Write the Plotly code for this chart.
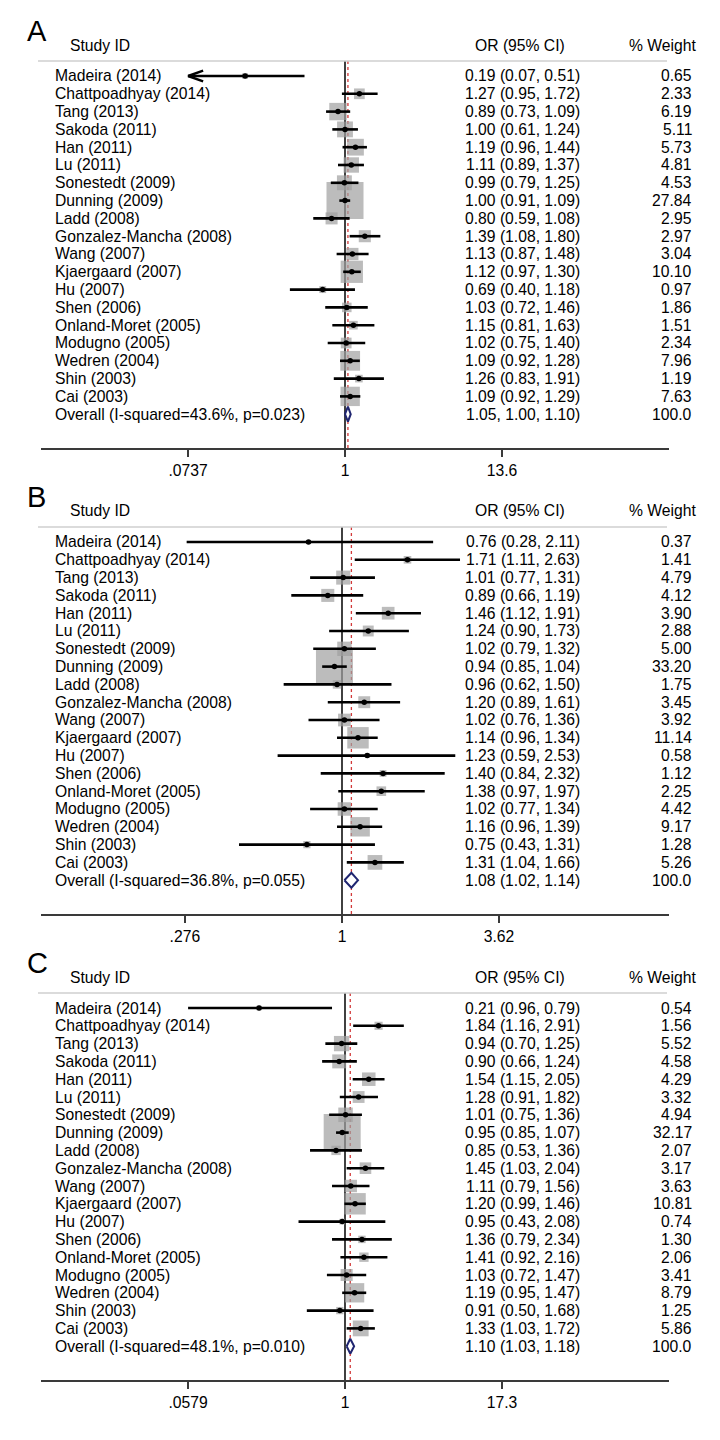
import math
import plotly.graph_objects as go

# ---------------- data ----------------
studies = ["Madeira (2014)", "Chattpoadhyay (2014)", "Tang (2013)", "Sakoda (2011)",
           "Han (2011)", "Lu (2011)", "Sonestedt (2009)", "Dunning (2009)", "Ladd (2008)",
           "Gonzalez-Mancha (2008)", "Wang (2007)", "Kjaergaard (2007)", "Hu (2007)",
           "Shen (2006)", "Onland-Moret (2005)", "Modugno (2005)", "Wedren (2004)",
           "Shin (2003)", "Cai (2003)"]

# Panel A
a_or = [0.19, 1.27, 0.89, 1.00, 1.19, 1.11, 0.99, 1.00, 0.80, 1.39, 1.13, 1.12, 0.69, 1.03, 1.15, 1.02, 1.09, 1.26, 1.09]
a_lo = [0.07, 0.95, 0.73, 0.61, 0.96, 0.89, 0.79, 0.91, 0.59, 1.08, 0.87, 0.97, 0.40, 0.72, 0.81, 0.75, 0.92, 0.83, 0.92]
a_hi = [0.51, 1.72, 1.09, 1.24, 1.44, 1.37, 1.25, 1.09, 1.08, 1.80, 1.48, 1.30, 1.18, 1.46, 1.63, 1.40, 1.28, 1.91, 1.29]
a_w = [0.65, 2.33, 6.19, 5.11, 5.73, 4.81, 4.53, 27.84, 2.95, 2.97, 3.04, 10.10, 0.97, 1.86, 1.51, 2.34, 7.96, 1.19, 7.63]
a_lo_drawn = {3: 0.81}          # Sakoda's line is drawn from ~0.81 in the figure
a_overall = [1.05, 1.00, 1.10]
a_overall_text = "1.05, 1.00, 1.10)"
a_het = "Overall (I-squared=43.6%, p=0.023)"
a_ticks = [0.0737, 1, 13.6]
a_ticktext = [".0737", "1", "13.6"]

# Panel B
b_or = [0.76, 1.71, 1.01, 0.89, 1.46, 1.24, 1.02, 0.94, 0.96, 1.20, 1.02, 1.14, 1.23, 1.40, 1.38, 1.02, 1.16, 0.75, 1.31]
b_lo = [0.28, 1.11, 0.77, 0.66, 1.12, 0.90, 0.79, 0.85, 0.62, 0.89, 0.76, 0.96, 0.59, 0.84, 0.97, 0.77, 0.96, 0.43, 1.04]
b_hi = [2.11, 2.63, 1.31, 1.19, 1.91, 1.73, 1.32, 1.04, 1.50, 1.61, 1.36, 1.34, 2.53, 2.32, 1.97, 1.34, 1.39, 1.31, 1.66]
b_w = [0.37, 1.41, 4.79, 4.12, 3.90, 2.88, 5.00, 33.20, 1.75, 3.45, 3.92, 11.14, 0.58, 1.12, 2.25, 4.42, 9.17, 1.28, 5.26]
b_lo_drawn = {}
b_overall = [1.08, 1.02, 1.14]
b_overall_text = "1.08 (1.02, 1.14)"
b_het = "Overall (I-squared=36.8%, p=0.055)"
b_ticks = [0.276, 1, 3.62]
b_ticktext = [".276", "1", "3.62"]

# Panel C
c_or = [0.21, 1.84, 0.94, 0.90, 1.54, 1.28, 1.01, 0.95, 0.85, 1.45, 1.11, 1.20, 0.95, 1.36, 1.41, 1.03, 1.19, 0.91, 1.33]
c_lo = [0.96, 1.16, 0.70, 0.66, 1.15, 0.91, 0.75, 0.85, 0.53, 1.03, 0.79, 0.99, 0.43, 0.79, 0.92, 0.72, 0.95, 0.50, 1.03]
c_hi = [0.79, 2.91, 1.25, 1.24, 2.05, 1.82, 1.36, 1.07, 1.36, 2.04, 1.56, 1.46, 2.08, 2.34, 2.16, 1.47, 1.47, 1.68, 1.72]
c_w = [0.54, 1.56, 5.52, 4.58, 4.29, 3.32, 4.94, 32.17, 2.07, 3.17, 3.63, 10.81, 0.74, 1.30, 2.06, 3.41, 8.79, 1.25, 5.86]
c_lo_drawn = {0: 0.0579}        # Madeira's line is drawn from ~0.058 in the figure
c_overall = [1.10, 1.03, 1.18]
c_overall_text = "1.10 (1.03, 1.18)"
c_het = "Overall (I-squared=48.1%, p=0.010)"
c_ticks = [0.0579, 1, 17.3]
c_ticktext = [".0579", "1", "17.3"]

panels = [
    dict(letter="A", or_=a_or, lo=a_lo, hi=a_hi, w=a_w, lo_drawn=a_lo_drawn, ov=a_overall,
         ov_text=a_overall_text, het=a_het, ticks=a_ticks, ticktext=a_ticktext),
    dict(letter="B", or_=b_or, lo=b_lo, hi=b_hi, w=b_w, lo_drawn=b_lo_drawn, ov=b_overall,
         ov_text=b_overall_text, het=b_het, ticks=b_ticks, ticktext=b_ticktext),
    dict(letter="C", or_=c_or, lo=c_lo, hi=c_hi, w=c_w, lo_drawn=c_lo_drawn, ov=c_overall,
         ov_text=c_overall_text, het=c_het, ticks=c_ticks, ticktext=c_ticktext),
]

# ---------------- layout constants (pixels) ----------------
W, H = 720, 1440
FONT = "Liberation Sans, Arial, sans-serif"
FS = 15.7
FIRST_ROW = 76
ROW = 17.8
PANEL = 466
HEAD_LINE = 61
AXIS_LINE = 448
X_L, X_R = 41, 669
ONE_PX = [345, 342, 345]
TICK_SPAN = 157
BOX_MAX = 37
TXT = "#000"

BOX_COL = "#a0a0a0"
DIAM_COL = "#1f2570"
RED = "#d23a3a"


def px(x):
    return x / W


def py(y):
    return 1 - y / H


fig = go.Figure()
annotations = []
shapes = []
layout_axes = {}

for k, p in enumerate(panels):
    xs = "" if k == 0 else str(k + 1)
    xref, yref = "x" + xs, "y" + xs
    off = PANEL * k
    n = len(studies)
    rows = list(range(n))
    ov_row = n

    ppd = TICK_SPAN / math.log10(p["ticks"][-1])
    xr = [(X_L - ONE_PX[k]) / ppd, (X_R - ONE_PX[k]) / ppd]
    y_bot = (AXIS_LINE - FIRST_ROW) / ROW
    y_top = (HEAD_LINE - FIRST_ROW) / ROW

    layout_axes["xaxis" + xs] = dict(
        type="log", range=xr, domain=[px(X_L), px(X_R)], anchor=yref,
        showline=True, linecolor="#3a3a3a", linewidth=2, ticks="outside", ticklen=7,
        tickwidth=1.5, tickcolor="#3a3a3a", tickvals=p["ticks"], ticktext=p["ticktext"],
        showgrid=False, zeroline=False, tickfont=dict(family=FONT, size=FS, color=TXT),
        fixedrange=True)
    layout_axes["yaxis" + xs] = dict(
        domain=[py(AXIS_LINE + off), py(HEAD_LINE + off)], range=[y_bot, y_top],
        visible=False, anchor=xref, fixedrange=True)

    # reference line at 1 and dashed line at overall estimate
    fig.add_trace(go.Scatter(x=[1, 1], y=[y_bot, y_top], mode="lines", xaxis=xref, yaxis=yref,
                             line=dict(color="#111", width=1.6), hoverinfo="skip", showlegend=False))
    fig.add_trace(go.Scatter(x=[p["ov"][0]] * 2, y=[y_bot, y_top], mode="lines", xaxis=xref,
                             yaxis=yref, line=dict(color=RED, width=1.3, dash="3px,3px"),
                             hoverinfo="skip", showlegend=False))

    # boxes
    wmax = max(p["w"])
    sizes = [BOX_MAX * math.sqrt(w / wmax) for w in p["w"]]
    fig.add_trace(go.Scatter(x=p["or_"], y=rows, mode="markers", xaxis=xref, yaxis=yref,
                             marker=dict(symbol="square", size=sizes, color=BOX_COL,
                                         line=dict(width=0)),
                             hoverinfo="skip", showlegend=False, cliponaxis=False))

    # CI lines (clipped at outer ticks, arrows when clipped)
    t_lo, t_hi = p["ticks"][0], p["ticks"][-1]
    cx, cy, ax_, ay_ = [], [], [], []
    arm = 10 ** (15 / ppd)
    for i in rows:
        lo = p["lo_drawn"].get(i, p["lo"][i])
        hi = p["hi"][i]
        l2, h2 = max(lo, t_lo), min(hi, t_hi)
        cx += [l2, h2, None]
        cy += [i, i, None]
        if lo < t_lo:
            ax_ += [t_lo * arm, t_lo, t_lo * arm, None]
            ay_ += [i - 0.3, i, i + 0.3, None]
        if hi > t_hi:
            ax_ += [t_hi / arm, t_hi, t_hi / arm, None]
            ay_ += [i - 0.3, i, i + 0.3, None]
    fig.add_trace(go.Scatter(x=cx, y=cy, mode="lines", xaxis=xref, yaxis=yref,
                             line=dict(color="#000", width=2.6), hoverinfo="skip",
                             showlegend=False, cliponaxis=False))
    if ax_:
        fig.add_trace(go.Scatter(x=ax_, y=ay_, mode="lines", xaxis=xref, yaxis=yref,
                                 line=dict(color="#000", width=2.4), hoverinfo="skip",
                                 showlegend=False, cliponaxis=False))
    # point estimates
    fig.add_trace(go.Scatter(x=p["or_"], y=rows, mode="markers", xaxis=xref, yaxis=yref,
                             marker=dict(symbol="circle", size=5.5, color="#000"),
                             hoverinfo="skip", showlegend=False, cliponaxis=False))
    # diamond
    o, ol, oh = p["ov"]
    fig.add_trace(go.Scatter(x=[ol, o, oh, o, ol], y=[ov_row, ov_row - 0.42, ov_row, ov_row + 0.42, ov_row],
                             mode="lines", fill="toself", fillcolor="white", xaxis=xref, yaxis=yref,
                             line=dict(color=DIAM_COL, width=2), hoverinfo="skip",
                             showlegend=False, cliponaxis=False))

    # header line
    shapes.append(dict(type="line", xref="paper", yref="paper", x0=px(38), x1=px(667),
                       y0=py(HEAD_LINE + off), y1=py(HEAD_LINE + off),
                       line=dict(color="#cfcfcf", width=1.5)))

    def ann(text, x, y, xanchor="left", size=FS, yr=yref):
        annotations.append(dict(text=text, x=px(x), y=y, xref="paper", yref=yr,
                                xanchor=xanchor, yanchor="middle", showarrow=False,
                                font=dict(family=FONT, size=size, color=TXT)))

    # panel letter and headers (paper coordinates)
    ann(p["letter"], 25, py(31 + off), size=29, yr="paper")
    hy = py(45 + off)
    ann("Study ID", 68, hy, yr="paper")
    ann("OR (95% CI)", 520, hy, xanchor="center", yr="paper")
    ann("% Weight", 698, hy, xanchor="right", yr="paper")

    for i in rows:
        ann(studies[i], 53, i)
        ann(f"{p['or_'][i]:.2f} ({p['lo'][i]:.2f}, {p['hi'][i]:.2f})", 582, i, xanchor="right")
        ann(f"{p['w'][i]:.2f}", 694, i, xanchor="right")
    ann(p["het"], 53, ov_row)
    ann(p["ov_text"], 582, ov_row, xanchor="right")
    ann(f"{100:.1f}", 694, ov_row, xanchor="right")

fig.update_layout(
    width=W, height=H, margin=dict(l=0, r=0, t=0, b=0),
    paper_bgcolor="white", plot_bgcolor="white",
    annotations=annotations, shapes=shapes, showlegend=False,
    font=dict(family=FONT, size=FS, color=TXT),
    **layout_axes,
)

fig.write_html("out.html", config={"displayModeBar": False},
               post_script="document.body.style.margin='0px';")
